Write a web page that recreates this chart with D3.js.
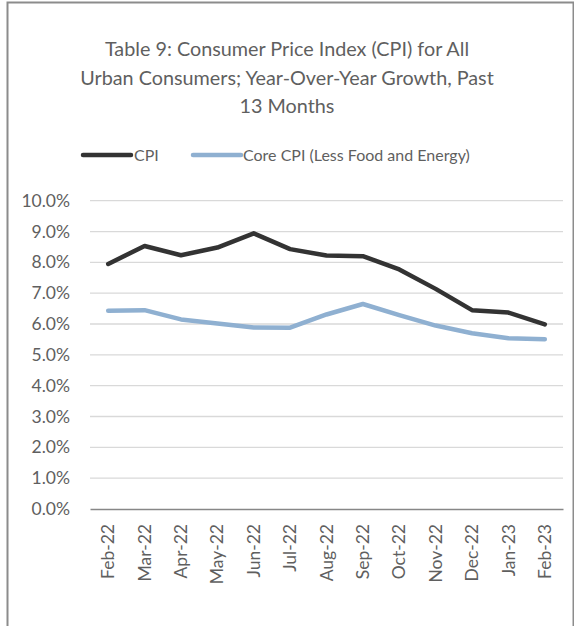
<!DOCTYPE html>
<html>
<head>
<meta charset="utf-8">
<script src="https://cdn.jsdelivr.net/npm/d3@7"></script>
<style>
  html, body { margin: 0; padding: 0; background: #fff; }
  svg { display: block; }
  text { font-family: Lato, "Open Sans", sans-serif; }
</style>
</head>
<body>
<svg id="chart" width="574" height="626"></svg>
<script>
const months = ["Feb-22","Mar-22","Apr-22","May-22","Jun-22","Jul-22","Aug-22","Sep-22","Oct-22","Nov-22","Dec-22","Jan-23","Feb-23"];
const cpi = [7.95, 8.53, 8.23, 8.48, 8.94, 8.43, 8.22, 8.20, 7.77, 7.14, 6.45, 6.37, 5.99];
const coreCpi = [6.43, 6.45, 6.15, 6.02, 5.89, 5.88, 6.31, 6.65, 6.29, 5.95, 5.70, 5.54, 5.51];
const yTicks = [0,1,2,3,4,5,6,7,8,9,10];
const titleLines = ["Table 9: Consumer Price Index (CPI) for All", "Urban Consumers; Year-Over-Year Growth, Past", "13 Months"];
const seriesNames = ["CPI", "Core CPI (Less Food and Energy)"];
const colors = ["#333333", "#8FB0D1"];

const svg = d3.select("#chart");
const textColor = "#5f5f5f";

// outer border
svg.append("rect").attr("x", 7.5).attr("y", 2.5).attr("width", 566).attr("height", 640)
  .attr("fill", "none").attr("stroke", "#8c8c8c").attr("stroke-width", 2);

// title
svg.append("g").selectAll("text").data(titleLines).join("text")
  .attr("x", 287).attr("y", (d, i) => 56 + i * 28.5)
  .attr("text-anchor", "middle").attr("font-size", 19.8).attr("fill", textColor)
  .text(d => d);

const x = d3.scaleBand().domain(months).range([90, 563]);
const y = d3.scaleLinear().domain([0, 10]).range([509, 200.7]);

// gridlines
svg.append("g").selectAll("line").data(yTicks.filter(t => t > 0)).join("line")
  .attr("x1", 90).attr("x2", 563).attr("y1", d => y(d)).attr("y2", d => y(d))
  .attr("stroke", "#d9d9d9").attr("stroke-width", 1.3);

// y axis labels
const yAxis = d3.axisLeft(y).tickValues(yTicks).tickFormat(d => d.toFixed(1) + "%").tickSize(0).tickPadding(0);
const yg = svg.append("g").attr("transform", "translate(70,0)").call(yAxis);
yg.select(".domain").remove();
yg.selectAll("text").attr("font-size", 17.5).attr("fill", textColor).attr("font-family", "Lato, sans-serif");

// x axis
const xAxis = d3.axisBottom(x).tickSize(0).tickPadding(0);
const xg = svg.append("g").attr("transform", "translate(0,509)").call(xAxis);
xg.select(".domain").attr("stroke", "#878787").attr("stroke-width", 1.5);
xg.selectAll("text")
  .attr("font-size", 17.5).attr("fill", textColor).attr("font-family", "Lato, sans-serif")
  .attr("text-anchor", "end").attr("dy", "0.35em")
  .attr("transform", "translate(0,15) rotate(-90)").attr("y", 0).attr("x", 0);

// lines
const line = d3.line().x((d, i) => x(months[i]) + x.bandwidth() / 2).y(d => y(d));
[cpi, coreCpi].forEach((s, k) => {
  svg.append("path").datum(s).attr("d", line).attr("fill", "none")
    .attr("stroke", colors[k]).attr("stroke-width", 4.5)
    .attr("stroke-linecap", "round").attr("stroke-linejoin", "round");
});

// legend
const legend = [{ x1: 83, x2: 131, tx: 134 }, { x1: 193, x2: 241, tx: 243 }];
legend.forEach((l, k) => {
  svg.append("line").attr("x1", l.x1).attr("x2", l.x2).attr("y1", 155).attr("y2", 155)
    .attr("stroke", colors[k]).attr("stroke-width", 4.5).attr("stroke-linecap", "round");
  svg.append("text").attr("x", l.tx).attr("y", 155).attr("dy", "0.35em")
    .attr("font-size", 16).attr("fill", textColor).text(seriesNames[k]);
});
</script>
</body>
</html>
